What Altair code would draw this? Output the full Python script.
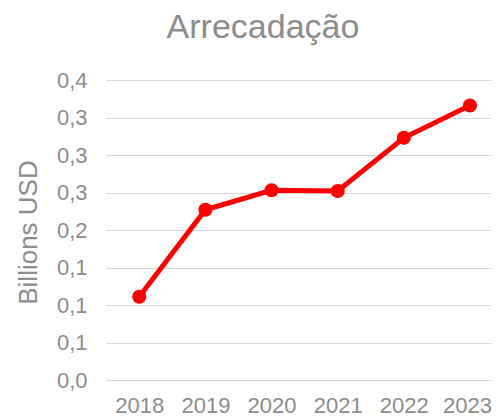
import altair as alt
import pandas as pd

years = [2018, 2019, 2020, 2021, 2022, 2023]
values = [0.111, 0.227, 0.253, 0.252, 0.323, 0.366]
y_ticks = [0.0, 0.05, 0.10, 0.15, 0.20, 0.25, 0.30, 0.35, 0.40]

df = pd.DataFrame({"year": years, "value": values})

grey = "#8c8c8c"
font = "Liberation Sans"

x = alt.X("year:Q", scale=alt.Scale(domain=[2017.497, 2023.333], nice=False, zero=False),
          axis=alt.Axis(title=None, values=years, format="d", labelAngle=0, labelFontSize=22,
                        labelColor=grey, labelFont=font, ticks=False, domain=False,
                        labelOffset={"condition": {"test": "datum.value == 2023", "value": -3},
                                     "value": 0},
                        labelPadding=15, grid=False, labelFlush=False, labelOverlap=False))
y = alt.Y("value:Q", scale=alt.Scale(domain=[0, 0.4], nice=False),
          axis=alt.Axis(title="Billions USD", values=y_ticks,
                        labelExpr="replace(format(datum.value, '.1f'), '.', ',')",
                        labelFontSize=22, labelColor=grey, labelFont=font,
                        titleFontSize=26, titleColor=grey, titleFont=font,
                        titleFontWeight="normal", titleAngle=270, titleAlign="center",
                        titleBaseline="alphabetic", titleX=-70, titleY=152,
                        ticks=False, domain=False, labelPadding=19,
                        gridColor="#d9d9d9", gridWidth=1))

line = alt.Chart(df).mark_line(color="#ff0000", strokeWidth=5).encode(x=x, y=y)
pts = alt.Chart(df).mark_point(color="#ff0000", filled=True, opacity=1, size=200).encode(x=x, y=y)

chart = (line + pts).properties(
    width=386, height=300,
    title=alt.TitleParams("Arrecadação", fontSize=34, color=grey, font=font,
                          fontWeight="normal", anchor="middle", dx=-36, offset=24),
    autosize=alt.AutoSizeParams(type="none"),
    padding={"left": 98, "top": 72, "right": 0, "bottom": 38},
).configure_view(stroke=None)

chart.save("out.html", embed_options={"renderer": "svg", "actions": False})
